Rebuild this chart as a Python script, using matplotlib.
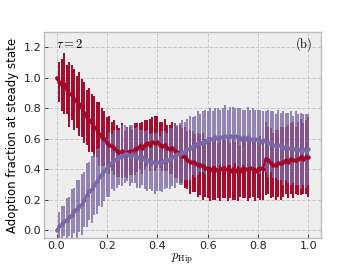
import numpy as np
import matplotlib
matplotlib.use("Agg")
import matplotlib.pyplot as plt

plt.style.use("bmh")

p_hip = [i / 100 for i in range(101)]

red_mean = [
    1.00, 0.97, 0.95, 0.96, 0.92, 0.89, 0.90, 0.86, 0.84, 0.83,
    0.80, 0.77, 0.74, 0.72, 0.70, 0.68, 0.66, 0.63, 0.61, 0.60,
    0.57, 0.56, 0.55, 0.54, 0.52, 0.51, 0.52, 0.50, 0.51, 0.52,
    0.51, 0.53, 0.54, 0.55, 0.54, 0.56, 0.57, 0.56, 0.58, 0.57,
    0.58, 0.56, 0.55, 0.56, 0.54, 0.53, 0.54, 0.52, 0.51, 0.50,
    0.49, 0.48, 0.46, 0.45, 0.45, 0.44, 0.43, 0.43, 0.42, 0.41,
    0.41, 0.40, 0.39, 0.40, 0.39, 0.40, 0.41, 0.40, 0.40, 0.39,
    0.40, 0.39, 0.40, 0.39, 0.41, 0.40, 0.40, 0.41, 0.40, 0.39,
    0.40, 0.41, 0.40, 0.47, 0.46, 0.44, 0.43, 0.43, 0.44, 0.44,
    0.45, 0.46, 0.45, 0.47, 0.46, 0.46, 0.47, 0.48, 0.47, 0.48,
    0.48,
]
red_err = [
    0.00, 0.13, 0.17, 0.20, 0.16, 0.21, 0.18, 0.20, 0.17, 0.21,
    0.19, 0.20, 0.18, 0.21, 0.19, 0.20, 0.18, 0.21, 0.19, 0.18,
    0.17, 0.19, 0.16, 0.18, 0.17, 0.16, 0.18, 0.15, 0.17, 0.16,
    0.15, 0.17, 0.16, 0.15, 0.17, 0.16, 0.15, 0.17, 0.16, 0.18,
    0.17, 0.15, 0.16, 0.17, 0.15, 0.16, 0.17, 0.18, 0.17, 0.19,
    0.18, 0.20, 0.19, 0.21, 0.20, 0.19, 0.21, 0.20, 0.22, 0.19,
    0.20, 0.21, 0.19, 0.20, 0.18, 0.21, 0.20, 0.19, 0.21, 0.18,
    0.20, 0.19, 0.21, 0.17, 0.20, 0.19, 0.21, 0.20, 0.18, 0.20,
    0.19, 0.21, 0.20, 0.24, 0.22, 0.23, 0.21, 0.23, 0.22, 0.24,
    0.23, 0.22, 0.24, 0.23, 0.25, 0.22, 0.24, 0.25, 0.23, 0.24,
    0.26,
]

purple_mean = [
    0.00, 0.03, 0.04, 0.06, 0.07, 0.09, 0.10, 0.13, 0.14, 0.16,
    0.17, 0.20, 0.23, 0.26, 0.27, 0.30, 0.32, 0.35, 0.37, 0.39,
    0.41, 0.43, 0.45, 0.46, 0.47, 0.48, 0.49, 0.50, 0.50, 0.49,
    0.50, 0.49, 0.48, 0.47, 0.48, 0.46, 0.46, 0.45, 0.45, 0.44,
    0.45, 0.44, 0.45, 0.46, 0.46, 0.47, 0.48, 0.49, 0.50, 0.50,
    0.51, 0.52, 0.53, 0.54, 0.55, 0.55, 0.57, 0.57, 0.58, 0.58,
    0.59, 0.60, 0.60, 0.61, 0.60, 0.61, 0.61, 0.62, 0.61, 0.62,
    0.61, 0.62, 0.61, 0.60, 0.61, 0.60, 0.61, 0.60, 0.59, 0.60,
    0.59, 0.58, 0.59, 0.58, 0.57, 0.58, 0.56, 0.55, 0.56, 0.55,
    0.54, 0.55, 0.54, 0.54, 0.53, 0.54, 0.53, 0.52, 0.53, 0.52,
    0.53,
]
purple_err = [
    0.00, 0.09, 0.12, 0.10, 0.14, 0.13, 0.17, 0.15, 0.19, 0.17,
    0.20, 0.18, 0.21, 0.19, 0.22, 0.20, 0.21, 0.19, 0.22, 0.20,
    0.19, 0.21, 0.18, 0.20, 0.19, 0.18, 0.20, 0.19, 0.18, 0.20,
    0.19, 0.18, 0.20, 0.19, 0.18, 0.19, 0.20, 0.18, 0.19, 0.20,
    0.19, 0.18, 0.20, 0.19, 0.18, 0.20, 0.19, 0.21, 0.19, 0.20,
    0.21, 0.19, 0.20, 0.21, 0.19, 0.20, 0.21, 0.19, 0.20, 0.21,
    0.19, 0.20, 0.18, 0.19, 0.20, 0.18, 0.19, 0.20, 0.18, 0.19,
    0.20, 0.18, 0.19, 0.20, 0.18, 0.19, 0.20, 0.19, 0.21, 0.19,
    0.20, 0.21, 0.19, 0.20, 0.22, 0.20, 0.22, 0.21, 0.23, 0.22,
    0.24, 0.22, 0.23, 0.24, 0.22, 0.24, 0.23, 0.25, 0.23, 0.24,
    0.23,
]

RED = "#A60628"
PURPLE = "#7A68A6"

fig = plt.figure(figsize=(3.57, 2.68), dpi=100)
fig.patch.set_facecolor("white")
ax = fig.add_axes([0.123, 0.112, 0.776, 0.769])

ax.errorbar(p_hip, red_mean, yerr=red_err, fmt="none", ecolor=RED,
            elinewidth=1.4, capsize=0, zorder=2)
ax.errorbar(p_hip, purple_mean, yerr=purple_err, fmt="none", ecolor=PURPLE,
            elinewidth=1.4, capsize=0, alpha=0.8, zorder=2.1)
ax.plot(p_hip, red_mean, "-", color=RED, lw=1.5, marker="o", ms=2.2, zorder=3)
ax.plot(p_hip, purple_mean, "-", color=PURPLE, lw=1.5, marker="o", ms=2.2, zorder=3.1)

ax.set_xlim(-0.05, 1.05)
ax.set_ylim(-0.05, 1.3)
ax.set_xticks([0.0, 0.2, 0.4, 0.6, 0.8, 1.0])
ax.set_yticks([0.0, 0.2, 0.4, 0.6, 0.8, 1.0, 1.2])
ax.tick_params(labelsize=8, pad=2, length=3, width=0.6, colors="#222222")
for s in ax.spines.values():
    s.set_color("#bcbcbc")
    s.set_linewidth(1.0)
ax.grid(True, color="#c8c8c8", linestyle="--", linewidth=0.7)

ax.set_ylabel("Adoption fraction at steady state", fontsize=8.5, labelpad=3)
ax.set_xlabel(r"$p_{\mathrm{Hip}}$", fontsize=9, labelpad=1)

ax.text(0.045, 0.94, r"$\tau = 2$", transform=ax.transAxes, fontsize=9,
        ha="left", va="center")
ax.text(0.968, 0.94, r"$\mathrm{(b)}$", transform=ax.transAxes, fontsize=9,
        ha="right", va="center")

fig.savefig("out.png", dpi=100)
